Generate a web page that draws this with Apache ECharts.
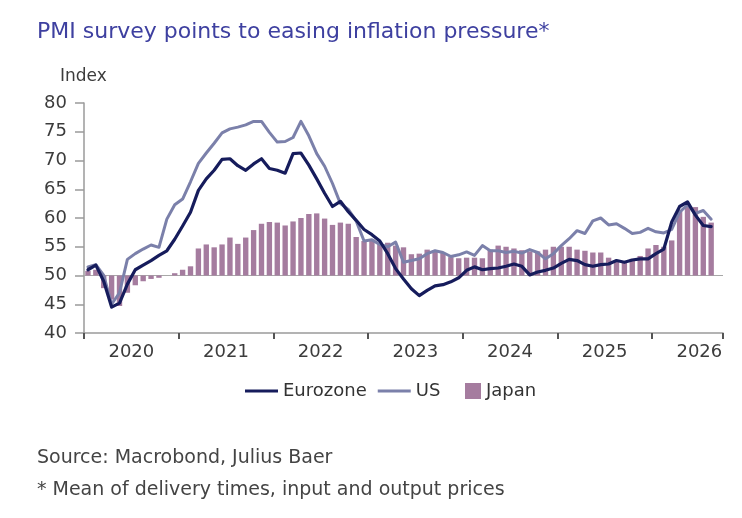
<!DOCTYPE html>
<html>
<head>
<meta charset="utf-8">
<script src="https://cdn.jsdelivr.net/npm/echarts@6/dist/echarts.min.js"></script>
<style>
  html, body { margin: 0; padding: 0; background: #fff; }
  #chart { width: 742px; height: 518px; }
</style>
</head>
<body>
<div id="chart"></div>
<script>
// years on the axis, data is monthly from Jan 2020
var yearLabels = ['2020', '2021', '2022', '2023', '2024', '2025', '2026'];
var months = [];
for (var y = 0; y < yearLabels.length; y++) {
  for (var m = 1; m <= 12; m++) {
    if (y === 6 && m > 9) break;
    months.push(yearLabels[y] + '-' + (m < 10 ? '0' + m : m));
  }
}

// Eurozone PMI (mean of delivery times, input and output prices)
var eurozone = [
  51.0, 51.8, 49.0, 44.5, 45.2, 48.5, 51.0, 51.8, 52.6, 53.5, 54.3, 56.3,
  58.6, 61.0, 64.8, 66.8, 68.3, 70.2, 70.3, 69.1, 68.3, 69.4, 70.3, 68.6,
  68.3, 67.8, 71.2, 71.3, 69.2, 66.8, 64.3, 62.0, 62.9, 61.1, 59.6, 58.0,
  57.1, 56.0, 53.8, 51.2, 49.4, 47.7, 46.5, 47.4, 48.2, 48.4, 48.9, 49.6,
  50.9, 51.5, 51.0, 51.2, 51.3, 51.6, 52.0, 51.6, 50.1, 50.6, 50.9, 51.3,
  52.1, 52.8, 52.6, 51.9, 51.6, 51.9, 52.0, 52.6, 52.3, 52.7, 52.9, 52.9,
  53.8, 54.6, 59.3, 62.0, 62.8, 60.5, 58.7, 58.5
];

// US
var us = [
  51.5, 51.9, 50.0, 45.0, 47.0, 52.8, 53.8, 54.6, 55.3, 54.9, 59.8, 62.3,
  63.3, 66.3, 69.5, 71.3, 73.0, 74.8, 75.5, 75.8, 76.2, 76.8, 76.8, 74.9,
  73.2, 73.3, 74.0, 76.8, 74.3, 71.2, 69.0, 66.0, 62.5, 61.5, 59.5, 56.0,
  56.2, 55.4, 55.0, 55.8, 52.3, 52.6, 52.9, 53.8, 54.3, 54.0, 53.3, 53.6,
  54.1, 53.5, 55.2, 54.3, 54.3, 54.0, 54.2, 53.9, 54.5, 54.0, 52.9, 53.8,
  55.2, 56.4, 57.8, 57.3, 59.5, 60.0, 58.8, 59.0, 58.2, 57.3, 57.5, 58.2,
  57.6, 57.4, 58.0, 61.0, 62.3, 60.8, 61.3, 59.8
];

// Japan (bars around the 50 line)
var japan = [
  50.8, 51.0, 47.8, 45.8, 44.7, 47.0, 48.3, 49.0, 49.4, 49.6, 50.0, 50.4,
  51.0, 51.6, 54.7, 55.4, 54.9, 55.4, 56.6, 55.5, 56.6, 57.9, 59.0, 59.3,
  59.2, 58.7, 59.4, 60.0, 60.7, 60.8, 59.9, 58.8, 59.2, 59.0, 56.7, 56.0,
  56.3, 55.7, 55.7, 55.2, 54.9, 53.7, 53.8, 54.5, 54.4, 53.9, 53.2, 53.0,
  53.1, 53.1, 53.0, 54.5, 55.2, 55.0, 54.7, 54.4, 54.2, 54.2, 54.5, 55.0,
  55.0, 55.0, 54.5, 54.3, 54.0, 54.0, 53.1, 52.6, 52.4, 52.9, 53.4, 54.7,
  55.3, 55.0, 56.1, 61.4, 62.5, 61.9, 60.2, 59.2
];

var baseLine = 50;
var yTicks = { min: 40, max: 80, step: 5 };

var font = 'DejaVu Sans';
var textGrey = '#3c3c3c';
var axisGrey = '#9a9a9a';
var ezColor = '#161c5c';
var usColor = '#7b80aa';
var jpColor = '#a57c9f';

var chart = echarts.init(document.getElementById('chart'));

var option = {
  backgroundColor: '#fff',
  animation: false,
  textStyle: { fontFamily: font },
  title: [
    {
      text: 'PMI survey points to easing inflation pressure*',
      left: 32, top: 16,
      textStyle: { fontFamily: font, fontSize: 22, fontWeight: 'normal', color: '#3e40a0' }
    },
    {
      text: 'Index',
      left: 55, top: 63,
      textStyle: { fontFamily: font, fontSize: 17, fontWeight: 'normal', color: textGrey }
    },
    {
      text: 'Source: Macrobond, Julius Baer',
      left: 32, top: 444,
      textStyle: { fontFamily: font, fontSize: 19, fontWeight: 'normal', color: '#444' }
    },
    {
      text: '* Mean of delivery times, input and output prices',
      left: 32, top: 476,
      textStyle: { fontFamily: font, fontSize: 19, fontWeight: 'normal', color: '#444' }
    }
  ],
  legend: [
    {
      data: [
        { name: 'Eurozone', icon: 'rect' },
        { name: 'US', icon: 'rect' }
      ],
      left: 240, top: 377,
      itemWidth: 33, itemHeight: 3, itemGap: 11,
      textStyle: { fontFamily: font, fontSize: 18, color: '#333' }
    },
    {
      data: [{ name: 'Japan', icon: 'rect' }],
      left: 460, top: 377,
      itemWidth: 16, itemHeight: 16,
      textStyle: { fontFamily: font, fontSize: 18, color: '#333' }
    }
  ],
  grid: { left: 84, right: 19, top: 103, bottom: 185 },
  xAxis: [
    {
      type: 'category',
      data: months,
      boundaryGap: true,
      axisLine: { onZero: false, lineStyle: { color: axisGrey, width: 1.5 } },
      axisTick: {
        show: true,
        interval: 11,
        length: 6,
        lineStyle: { color: '#555', width: 2 }
      },
      axisLabel: { show: false },
      splitLine: { show: false }
    },
    {
      // only used to place the year labels in the middle of each year
      type: 'value',
      position: 'bottom',
      min: 0, max: months.length, interval: 6,
      axisLine: { show: false, onZero: false },
      axisTick: { show: false },
      splitLine: { show: false },
      axisLabel: {
        margin: 10,
        fontFamily: font, fontSize: 18, color: textGrey,
        formatter: function (v) {
          return v % 12 === 6 ? yearLabels[(v - 6) / 12] : '';
        }
      }
    }
  ],
  yAxis: [
    {
      type: 'value',
      min: yTicks.min, max: yTicks.max, interval: yTicks.step,
      axisLine: { show: true, onZero: false, lineStyle: { color: axisGrey, width: 1.5 } },
      axisTick: { show: true, length: 9, lineStyle: { color: axisGrey, width: 1.5 } },
      axisLabel: { margin: 17, fontFamily: font, fontSize: 18, color: textGrey },
      splitLine: { show: false }
    },
    {
      // Japan bars hang from the 50 line
      type: 'value',
      min: yTicks.min - baseLine, max: yTicks.max - baseLine,
      show: false
    }
  ],
  series: [
    {
      name: 'Japan',
      type: 'bar',
      yAxisIndex: 1,
      data: japan.map(function (v) { return +(v - baseLine).toFixed(1); }),
      barCategoryGap: '32%',
      itemStyle: { color: jpColor }
    },
    {
      name: 'US',
      type: 'line',
      data: us,
      symbol: 'none',
      lineStyle: { color: usColor, width: 3, cap: 'round', join: 'round' },
      itemStyle: { color: usColor }
    },
    {
      name: 'Eurozone',
      type: 'line',
      data: eurozone,
      symbol: 'none',
      lineStyle: { color: ezColor, width: 3.2, cap: 'round', join: 'round' },
      itemStyle: { color: ezColor },
      markLine: {
        silent: true,
        symbol: 'none',
        label: { show: false },
        lineStyle: { color: '#a8a8a8', width: 1.2, type: 'solid' },
        data: [{ yAxis: baseLine }],
        z: 1
      }
    }
  ]
};

chart.setOption(option);
</script>
</body>
</html>
